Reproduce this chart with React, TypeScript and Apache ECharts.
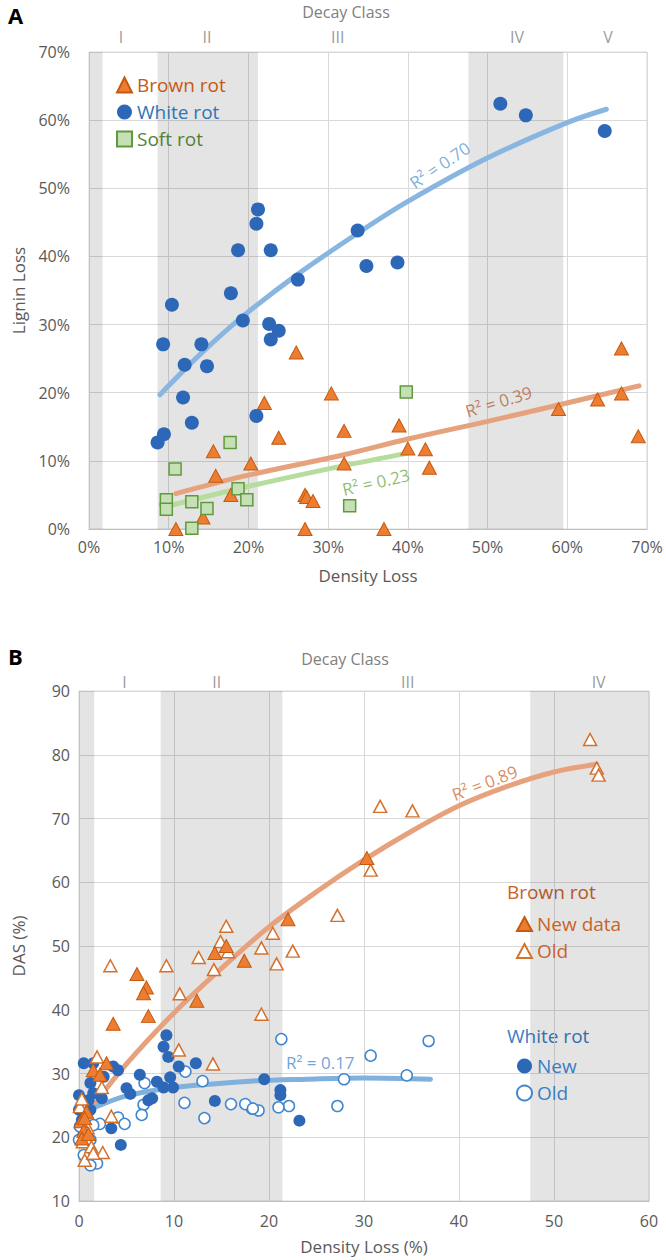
import React, { useEffect, useRef } from "react";
import * as echarts from "echarts";

const FONT = "'Open Sans', 'Noto Sans', sans-serif";
const AXIS_TXT = "#595959";
const GRID_LINE = "#d9d9d9";
const BAND = "rgba(0,0,0,0.105)";

// ---------- Panel A (Lignin loss vs density loss, %) ----------
const brownRotA = [
  [26.0, 25.9], [30.4, 19.9], [22.0, 18.5], [32.0, 14.4], [23.8, 13.4], [15.6, 11.4],
  [20.3, 9.6], [32.0, 9.6], [15.9, 7.8], [17.8, 5.0], [27.1, 5.0], [27.3, 4.7],
  [28.1, 4.1], [14.3, 1.7], [10.9, 0], [27.1, 0], [66.8, 26.5], [66.8, 19.9],
  [63.8, 19.0], [58.9, 17.6], [68.9, 13.6], [38.9, 15.2], [40.0, 11.8], [42.2, 11.7],
  [42.7, 9.0], [37.0, 0],
];
const whiteRotA = [
  [21.2, 46.9], [21.0, 44.8], [18.7, 40.9], [22.8, 40.9], [26.2, 36.6], [33.7, 43.8],
  [10.4, 32.9], [17.8, 34.6], [19.3, 30.6], [22.6, 30.1], [23.8, 29.1], [22.8, 27.8],
  [9.3, 27.1], [14.1, 27.1], [12.0, 24.1], [14.8, 23.9], [11.8, 19.3], [21.0, 16.6],
  [12.9, 15.6], [9.4, 13.9], [8.6, 12.7], [51.6, 62.4], [54.8, 60.7], [64.7, 58.4],
  [34.8, 38.6], [38.7, 39.1],
];
const softRotA = [
  [10.8, 8.8], [17.7, 12.7], [18.7, 5.9], [19.8, 4.3], [9.7, 4.3], [9.7, 2.9],
  [12.9, 4.0], [14.8, 3.0], [12.9, 0.1], [32.7, 3.4], [39.8, 20.1],
];
const whiteTrendA = [
  [8.9, 19.7], [14.1, 25.8], [19.3, 31.2], [26.2, 37.4], [33.7, 43.4], [39.9, 48.0],
  [49.9, 54.4], [59.9, 59.6], [64.9, 61.6],
];
const brownTrendA = [
  [10.9, 5.2], [20, 7.9], [32, 10.9], [40, 13.2], [50, 15.8], [58.9, 18.2], [69, 21.0],
];
const softTrendA = [[9.7, 3.3], [19.8, 6.2], [32, 9.3], [39.9, 11.1]];
const bandsA = [[0, 1.7], [8.6, 21.2], [47.6, 59.5]];
const decayNamesA = ["I", "II", "III", "IV", "V"];
const decayPosA = [4.0, 14.8, 31.2, 53.7, 65.1];

// ---------- Panel B (DAS % vs density loss %) ----------
const brownNewB = [
  [30.3, 63.8], [22.0, 54.2], [6.1, 45.6], [7.1, 43.5], [6.8, 42.6], [12.4, 41.4],
  [7.3, 39.0], [3.6, 37.8], [14.3, 48.9], [15.5, 50.0], [17.4, 47.7], [2.9, 31.6],
  [1.5, 30.5], [2.2, 29.8], [0.2, 22.5], [0.5, 21.0], [0.3, 19.8], [0.8, 24.0],
  [1.0, 20.5], [0.6, 23.0],
];
const brownOldB = [
  [53.8, 82.4], [54.5, 77.9], [54.7, 76.8], [31.7, 71.9], [35.1, 71.2], [30.7, 61.9],
  [27.2, 54.8], [20.4, 52.0], [19.2, 49.7], [22.5, 49.2], [20.8, 47.2], [19.2, 39.3],
  [3.3, 46.9], [9.2, 46.9], [10.6, 42.5], [12.6, 48.2], [15.5, 53.1], [14.9, 50.7],
  [15.7, 49.1], [14.2, 46.3], [10.5, 33.7], [14.1, 31.5], [1.9, 32.6], [2.4, 27.8],
  [3.4, 23.3], [2.5, 17.6], [0.6, 16.4], [0.1, 24.8], [0.4, 19.3], [1.3, 18.5],
  [0.9, 21.5], [1.5, 17.5], [0.3, 26.0],
];
const whiteNewB = [
  [19.5, 29.1], [21.2, 27.4], [21.2, 26.6], [23.2, 22.6], [9.2, 36.0], [8.9, 34.2],
  [9.4, 32.6], [12.3, 31.6], [10.5, 31.1], [9.6, 29.4], [6.4, 29.8], [8.2, 28.7],
  [8.9, 27.8], [9.9, 27.8], [5.0, 27.7], [5.4, 26.8], [7.3, 25.8], [7.7, 26.1],
  [14.3, 25.7], [3.4, 21.4], [4.4, 18.8], [0.5, 31.6], [1.5, 31.6], [1.2, 28.5],
  [2.4, 26.1], [0.0, 26.6], [1.5, 26.9], [1.0, 25.8], [4.1, 30.5], [3.6, 31.1],
  [2.6, 29.5], [0.0, 24.3], [0.3, 22.7], [1.2, 24.3],
];
const whiteOldB = [
  [21.3, 35.4], [36.8, 35.1], [30.7, 32.8], [27.9, 29.1], [34.5, 29.7], [27.2, 24.9],
  [22.1, 24.9], [21.0, 24.7], [18.9, 24.2], [18.2, 24.5], [11.2, 30.3], [6.9, 28.5],
  [13.0, 28.8], [11.1, 25.4], [16.0, 25.2], [17.5, 25.2], [18.3, 24.5], [13.2, 23.0],
  [6.8, 25.1], [6.6, 23.5], [4.1, 23.1], [4.8, 22.1], [2.2, 22.1], [1.9, 15.9],
  [1.2, 15.6], [0.5, 17.2], [0.0, 19.6], [1.2, 19.6], [0.5, 20.6], [0.1, 21.7],
  [1.5, 21.9],
];
const brownTrendB = [
  [1, 24], [5, 31.5], [10, 39.5], [15, 46.5], [20, 53], [25, 58.5], [30, 63.5],
  [35, 68], [40, 72], [45, 75], [50, 77.3], [54.5, 78.5],
];
const whiteTrendB = [
  [1, 24.3], [3, 25.5], [5, 26.5], [8.5, 27.5], [12, 28.1], [18, 28.8], [24, 29.1],
  [30, 29.3], [37, 29.1],
];
const bandsB = [[0, 1.6], [8.6, 21.4], [47.5, 60]];
const decayNamesB = ["I", "II", "III", "IV"];
const decayPosB = [4.8, 14.5, 34.6, 54.7];

// R² annotations
const r2A = [
  { text: "R² = 0.70", at: [44.0, 53.4], rot: 34, color: "#5b9bd5" },
  { text: "R² = 0.39", at: [51.4, 18.7], rot: 17, color: "#b0663c" },
  { text: "R² = 0.23", at: [36.0, 6.9], rot: 13, color: "#70ad47" },
];
const r2B = [
  { text: "R² = 0.89", at: [42.7, 75.6], rot: 21, color: "#d07035" },
  { text: "R² = 0.17", at: [25.4, 31.8], rot: 0, color: "#4a8bd0" },
];

const ORANGE = "#ed7d31";
const ORANGE_DK = "#c55a11";
const BLUE = "#2d68b8";
const BLUE_LT = "#3f86cf";

function bandSeries(bands: number[][], idx: number) {
  return {
    type: "scatter",
    xAxisIndex: idx,
    yAxisIndex: idx,
    data: [],
    silent: true,
    z: 1,
    markArea: {
      silent: true,
      itemStyle: { color: BAND },
      data: bands.map(([a, b]) => [{ xAxis: a }, { xAxis: b }]),
    },
  };
}

function labelSeries(items: any[], idx: number) {
  return {
    type: "scatter",
    xAxisIndex: idx,
    yAxisIndex: idx,
    silent: true,
    z: 6,
    symbolSize: 1,
    itemStyle: { color: "rgba(0,0,0,0)" },
    data: items.map((it) => ({
      value: it.at,
      label: {
        show: true,
        position: "inside",
        formatter: it.text,
        rotate: it.rot,
        color: it.color,
        fontSize: 17,
        fontFamily: FONT,
      },
    })),
  };
}

function decaySeries(names: string[], pos: number[], top: number, idx: number, dist: number) {
  return {
    type: "scatter",
    xAxisIndex: idx,
    yAxisIndex: idx,
    silent: true,
    z: 6,
    symbolSize: 1,
    clip: false,
    itemStyle: { color: "rgba(0,0,0,0)" },
    data: names.map((n, i) => ({
      value: [pos[i], top],
      label: {
        show: true,
        position: "top",
        distance: dist,
        formatter: n,
        color: "#7f7f7f",
        fontSize: 16,
        fontFamily: FONT,
      },
    })),
  };
}

function trend(data: number[][], idx: number, color: string, width = 5) {
  return {
    type: "line",
    xAxisIndex: idx,
    yAxisIndex: idx,
    data,
    smooth: 0.35,
    showSymbol: false,
    silent: true,
    z: 2,
    lineStyle: { color, width, cap: "round" },
  };
}

const axisCommon = {
  type: "value",
  axisTick: { show: false },
  splitLine: { show: true, lineStyle: { color: GRID_LINE, width: 1 } },
  axisLine: { show: true, lineStyle: { color: "#bfbfbf" } },
  nameLocation: "middle",
  nameTextStyle: { color: AXIS_TXT, fontSize: 17, fontFamily: FONT },
};

const option: any = {
  animation: false,
  backgroundColor: "#fff",
  textStyle: { fontFamily: FONT },
  grid: [
    { left: 89, top: 52, width: 558, height: 477, show: true, borderColor: GRID_LINE, borderWidth: 1 },
    { left: 79, top: 691, width: 570, height: 510, show: true, borderColor: GRID_LINE, borderWidth: 1 },
  ],
  xAxis: [
    {
      ...axisCommon,
      gridIndex: 0,
      min: 0,
      max: 70,
      interval: 10,
      name: "Density Loss",
      nameGap: 38,
      axisLabel: { formatter: "{value}%", color: AXIS_TXT, fontSize: 16, fontFamily: FONT, margin: 10 },
    },
    {
      ...axisCommon,
      gridIndex: 1,
      min: 0,
      max: 60,
      interval: 10,
      name: "Density Loss (%)",
      nameGap: 37,
      axisLabel: { color: AXIS_TXT, fontSize: 16, fontFamily: FONT, margin: 12 },
    },
  ],
  yAxis: [
    {
      ...axisCommon,
      gridIndex: 0,
      min: 0,
      max: 70,
      interval: 10,
      name: "Lignin Loss",
      nameGap: 62,
      axisLine: { show: true, lineStyle: { color: GRID_LINE } },
      axisLabel: { formatter: "{value}%", color: AXIS_TXT, fontSize: 16, fontFamily: FONT, margin: 19 },
    },
    {
      ...axisCommon,
      gridIndex: 1,
      min: 10,
      max: 90,
      interval: 10,
      name: "DAS (%)",
      nameGap: 52,
      axisLine: { show: true, lineStyle: { color: GRID_LINE } },
      axisLabel: { color: AXIS_TXT, fontSize: 16, fontFamily: FONT, margin: 9 },
    },
  ],
  legend: [
    {
      left: 111,
      top: 69,
      orient: "vertical",
      selectedMode: false,
      itemWidth: 15,
      itemHeight: 15,
      itemGap: 5,
      textStyle: { fontSize: 19, fontFamily: FONT, lineHeight: 22 },
      data: [
        { name: "Brown rot", textStyle: { color: ORANGE_DK } },
        { name: "White rot", textStyle: { color: "#2e75b6" } },
        { name: "Soft rot", textStyle: { color: "#548235" } },
      ],
    },
    {
      left: 511,
      top: 908,
      orient: "vertical",
      selectedMode: false,
      itemWidth: 15,
      itemHeight: 14,
      itemGap: 5,
      textStyle: { fontSize: 19, fontFamily: FONT, lineHeight: 22, color: "#c8642a" },
      formatter: (n: string) => (n === "Brown New" ? "New data" : "Old"),
      data: ["Brown New", "Brown Old"],
    },
    {
      left: 511,
      top: 1050,
      orient: "vertical",
      selectedMode: false,
      itemWidth: 15,
      itemHeight: 15,
      itemGap: 5,
      textStyle: { fontSize: 19, fontFamily: FONT, lineHeight: 22, color: "#3b7cc4" },
      formatter: (n: string) => (n === "White New" ? "New" : "Old"),
      data: ["White New", "White Old"],
    },
  ],
  graphic: [
    { type: "text", left: 8, top: 4, style: { text: "A", font: `bold 22px ${FONT}`, fill: "#000" } },
    { type: "text", left: 8, top: 645, style: { text: "B", font: `bold 22px ${FONT}`, fill: "#000" } },
    { type: "text", x: 346, y: 12, style: { text: "Decay Class", font: `16px ${FONT}`, fill: "#7f7f7f", align: "center", verticalAlign: "middle" } },
    { type: "text", x: 345, y: 659, style: { text: "Decay Class", font: `16px ${FONT}`, fill: "#7f7f7f", align: "center", verticalAlign: "middle" } },
    { type: "text", x: 507, y: 892, style: { text: "Brown rot", font: `19px ${FONT}`, fill: "#c8642a", align: "left", verticalAlign: "middle" } },
    { type: "text", x: 507, y: 1036, style: { text: "White rot", font: `19px ${FONT}`, fill: "#3b7cc4", align: "left", verticalAlign: "middle" } },
  ],
  series: [
    bandSeries(bandsA, 0),
    bandSeries(bandsB, 1),
    trend(whiteTrendA, 0, "#89b6e0"),
    trend(brownTrendA, 0, "#e6a27c"),
    trend(softTrendA, 0, "#b7dd9e"),
    trend(brownTrendB, 1, "#e6a27c"),
    trend(whiteTrendB, 1, "#80b0dc", 5),
    {
      name: "Brown rot",
      type: "scatter",
      xAxisIndex: 0,
      yAxisIndex: 0,
      data: brownRotA,
      symbol: "triangle",
      symbolSize: [14, 13],
      z: 3,
      itemStyle: { color: ORANGE, borderColor: ORANGE_DK, borderWidth: 1, opacity: 1 },
    },
    {
      name: "White rot",
      type: "scatter",
      xAxisIndex: 0,
      yAxisIndex: 0,
      data: whiteRotA,
      symbol: "circle",
      symbolSize: 14,
      z: 4,
      itemStyle: { color: BLUE, opacity: 1 },
    },
    {
      name: "Soft rot",
      type: "scatter",
      xAxisIndex: 0,
      yAxisIndex: 0,
      data: softRotA,
      symbol: "rect",
      symbolSize: 12,
      z: 5,
      itemStyle: { color: "#c5e0b4", borderColor: "#5f9a3d", borderWidth: 1.5, opacity: 1 },
    },
    {
      name: "White Old",
      type: "scatter",
      xAxisIndex: 1,
      yAxisIndex: 1,
      data: whiteOldB,
      symbol: "circle",
      symbolSize: 11,
      z: 3,
      itemStyle: { color: "#fff", borderColor: BLUE_LT, borderWidth: 1.5, opacity: 1 },
    },
    {
      name: "White New",
      type: "scatter",
      xAxisIndex: 1,
      yAxisIndex: 1,
      data: whiteNewB,
      symbol: "circle",
      symbolSize: 12,
      z: 4,
      itemStyle: { color: BLUE, opacity: 1 },
    },
    {
      name: "Brown Old",
      type: "scatter",
      xAxisIndex: 1,
      yAxisIndex: 1,
      data: brownOldB,
      symbol: "triangle",
      symbolSize: [13, 12],
      z: 5,
      itemStyle: { color: "#fff", borderColor: "#d4712c", borderWidth: 1.5, opacity: 1 },
    },
    {
      name: "Brown New",
      type: "scatter",
      xAxisIndex: 1,
      yAxisIndex: 1,
      data: brownNewB,
      symbol: "triangle",
      symbolSize: [14, 13],
      z: 5,
      itemStyle: { color: ORANGE, borderColor: ORANGE_DK, borderWidth: 1, opacity: 1 },
    },
    labelSeries(r2A, 0),
    labelSeries(r2B, 1),
    decaySeries(decayNamesA, decayPosA, 70, 0, 7),
    decaySeries(decayNamesB, decayPosB, 90, 1, 1),
  ],
};

export default function App() {
  const ref = useRef<HTMLDivElement>(null);
  useEffect(() => {
    document.body.style.margin = "0";
    const chart = echarts.init(ref.current as HTMLDivElement, null, { renderer: "svg" });
    chart.setOption(option);
    return () => chart.dispose();
  }, []);
  return <div ref={ref} style={{ width: 666, height: 1260 }} />;
}
